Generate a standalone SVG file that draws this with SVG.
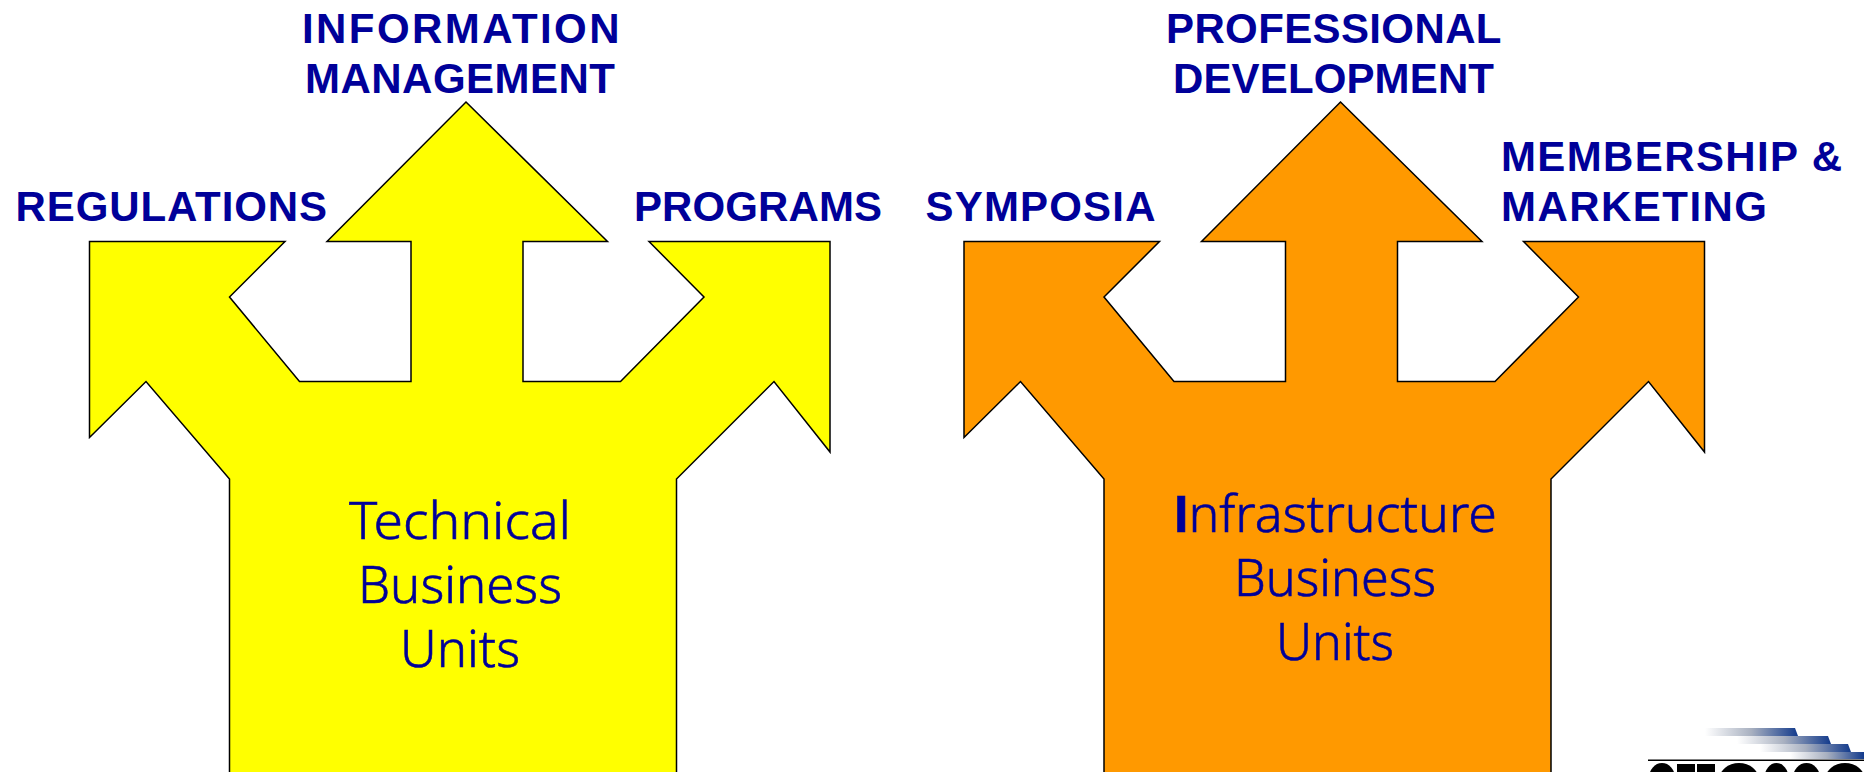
<svg xmlns="http://www.w3.org/2000/svg" width="1864" height="772" viewBox="0 0 1864 772">
<style>
.arrow{stroke:#000;stroke-width:1.5;stroke-linejoin:miter}
.h{font:bold 42px "Liberation Sans",Arial,sans-serif;fill:#000099;text-anchor:start}
.b{font:300 52px "Noto Sans","Open Sans",sans-serif;fill:#000099;stroke:#000099;stroke-width:.6;text-anchor:start}
.i{font-family:"Liberation Sans",Arial,sans-serif;font-weight:bold}
</style>
<defs>
<path id="arrowShape" d="M466 102L607.500 241.500H523V381.500H620.500L704 297L649 241.500H830V452L774 381.500L676.500 479V790H229.500V479L146 381.500L89.500 437.500V241.500H285L229.500 297L299.500 381.500H411V241.500H327Z"/>
<linearGradient id="g"><stop offset="0" stop-color="#fff"/><stop offset=".5" stop-color="#a8b0c0"/><stop offset="1" stop-color="#123a8c"/></linearGradient>
</defs>
<rect width="1864" height="772" fill="#fff"/>
<g id="technical">
<use href="#arrowShape" class="arrow" fill="#ffff00"/>
<text class="b" x="349" y="539" textLength="222" lengthAdjust="spacingAndGlyphs">Technical</text>
<text class="b" x="358" y="603" textLength="204" lengthAdjust="spacingAndGlyphs">Business</text>
<text class="b" x="400" y="667" textLength="120" lengthAdjust="spacingAndGlyphs">Units</text>
</g>
<g id="infrastructure">
<use href="#arrowShape" x="874.500" class="arrow" fill="#ff9900"/>
<text class="b" x="1174" y="532" textLength="323" lengthAdjust="spacingAndGlyphs"><tspan class="i">I</tspan>nfrastructure</text>
<text class="b" x="1234" y="596" textLength="202" lengthAdjust="spacingAndGlyphs">Business</text>
<text class="b" x="1276" y="660" textLength="118" lengthAdjust="spacingAndGlyphs">Units</text>
</g>
<g id="labels">
<text class="h" x="302" y="43" textLength="317.500">INFORMATION</text>
<text class="h" x="305" y="93" textLength="310">MANAGEMENT</text>
<text class="h" x="15.500" y="221" textLength="311.500">REGULATIONS</text>
<text class="h" x="634" y="221" textLength="248">PROGRAMS</text>
<text class="h" x="925.500" y="221" textLength="230">SYMPOSIA</text>
<text class="h" x="1166" y="43" textLength="335.500">PROFESSIONAL</text>
<text class="h" x="1173" y="93" textLength="321">DEVELOPMENT</text>
<text class="h" x="1501" y="171" textLength="341">MEMBERSHIP &amp;</text>
<text class="h" x="1501" y="221" textLength="266">MARKETING</text>
</g>
<g id="logo">
<path fill="url(#g)" d="M1705 728H1795L1798 736H1705Z"/>
<path fill="url(#g)" d="M1737 736H1828L1831 744H1737Z"/>
<path fill="url(#g)" d="M1760 744H1848L1851 752H1760Z"/>
<path fill="url(#g)" d="M1790 752H1864V759H1790Z"/>
<rect x="1648" y="759.500" width="216" height="1.500" fill="#000"/>
<ellipse cx="1662" cy="778" rx="13" ry="15" fill="#000"/>
<rect x="1677" y="764" width="18" height="8" fill="#000"/>
<rect x="1697" y="764" width="18" height="8" fill="#000"/>
<ellipse cx="1739" cy="780" rx="20" ry="17" fill="#000"/>
<ellipse cx="1776.500" cy="778" rx="12" ry="15" fill="#000"/>
<ellipse cx="1806.500" cy="778" rx="13.500" ry="15" fill="#000"/>
<ellipse cx="1845" cy="780" rx="20" ry="17" fill="#000"/>
</g>
</svg>
